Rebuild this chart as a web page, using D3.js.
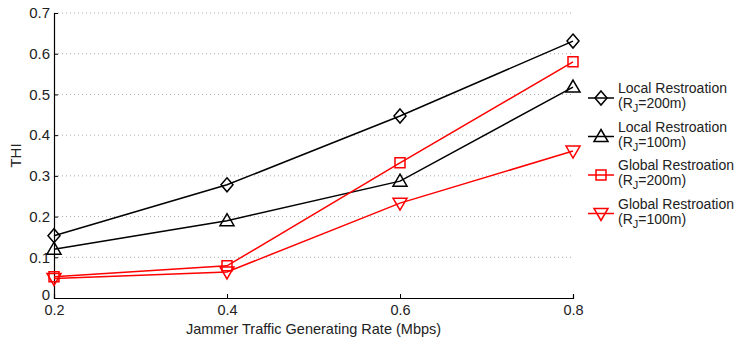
<!DOCTYPE html>
<html>
<head>
<meta charset="utf-8">
<script src="https://cdn.jsdelivr.net/npm/d3@7"></script>
<style>
  body { margin: 0; background: #fff; }
  text { font-family: "Liberation Sans", Arial, sans-serif; }
</style>
</head>
<body>
<script>
// data
var rates = [0.2, 0.4, 0.6, 0.8];
var localR200 = [0.153, 0.278, 0.447, 0.631];
var localR100 = [0.120, 0.190, 0.287, 0.518];
var globalR200 = [0.052, 0.079, 0.332, 0.580];
var globalR100 = [0.048, 0.064, 0.233, 0.361];
var yTicks = [0, 0.1, 0.2, 0.3, 0.4, 0.5, 0.6, 0.7];
var seriesNames = ["Local Restroation", "Local Restroation", "Global Restroation", "Global Restroation"];
var radii = ["200m", "100m", "200m", "100m"];

var w = 744, h = 340;

var series = [
  { name: seriesNames[0], r: radii[0], values: localR200, color: "#000", marker: "diamond" },
  { name: seriesNames[1], r: radii[1], values: localR100, color: "#000", marker: "triangle" },
  { name: seriesNames[2], r: radii[2], values: globalR200, color: "#f00", marker: "square" },
  { name: seriesNames[3], r: radii[3], values: globalR100, color: "#f00", marker: "triangleDown" }
];

var svg = d3.select("body").append("svg")
  .attr("width", w)
  .attr("height", h);

var x = d3.scaleLinear().domain([0.2, 0.8]).range([54, 573]);
var y = d3.scaleLinear().domain([0, 0.7]).range([298, 13]);

// dotted grid
svg.append("g").selectAll("line")
  .data(yTicks.slice(1))
  .enter().append("line")
  .attr("x1", x(0.2)).attr("x2", x(0.8))
  .attr("y1", function(d){ return y(d); })
  .attr("y2", function(d){ return y(d); })
  .style("stroke", "#aaa")
  .style("stroke-width", 1)
  .style("stroke-dasharray", "1,3");

// axes
var yAxis = d3.axisLeft(y).tickValues(yTicks).tickSize(-4).tickPadding(4)
  .tickFormat(function(d){ return d === 0 ? "0" : d3.format(".1f")(d); });
var gy = svg.append("g").attr("transform", "translate(" + x(0.2) + ",0)").call(yAxis);

var xAxis = d3.axisBottom(x).tickValues(rates).tickSize(-4).tickPadding(7)
  .tickFormat(d3.format(".1f"));
var gx = svg.append("g").attr("transform", "translate(0," + y(0) + ")").call(xAxis);

[gx, gy].forEach(function(g){
  g.select(".domain").style("stroke", "#000").style("stroke-width", 1.2);
  g.selectAll(".tick line").style("stroke", "#000");
  g.selectAll(".tick text").style("font-size", "15px").style("fill", "#222")
    .style("font-family", "'Liberation Sans', Arial, sans-serif");
});
gx.selectAll(".tick text").style("font-size", "14.5px");
// nudge the "0" label up a little so it clears the 0.2 label below
gy.selectAll(".tick text").filter(function(d){ return d === 0; }).attr("dy", "0.1em");

// axis titles
svg.append("text")
  .attr("x", x(0.5)).attr("y", 334)
  .attr("text-anchor", "middle")
  .style("font-size", "14.5px").style("fill", "#222")
  .text("Jammer Traffic Generating Rate (Mbps)");

svg.append("text")
  .attr("transform", "translate(21," + y(0.35) + ") rotate(-90)")
  .attr("text-anchor", "middle")
  .style("font-size", "15px").style("fill", "#222")
  .text("THI");

// marker shapes
function markerPath(type) {
  if (type === "diamond") return "M0,-7L6,0L0,7L-6,0Z";
  if (type === "triangle") return "M0,-7L7,5L-7,5Z";
  if (type === "triangleDown") return "M0,7L7,-5L-7,-5Z";
  return "M-5,-5L5,-5L5,5L-5,5Z";
}

var line = d3.line()
  .x(function(d, i){ return x(rates[i]); })
  .y(function(d){ return y(d); });

series.forEach(function(s){
  svg.append("path")
    .datum(s.values)
    .attr("d", line)
    .style("fill", "none")
    .style("stroke", s.color)
    .style("stroke-width", 1.5);

  svg.append("g").selectAll("path")
    .data(s.values)
    .enter().append("path")
    .attr("d", markerPath(s.marker))
    .attr("transform", function(d, i){ return "translate(" + x(rates[i]) + "," + y(d) + ")"; })
    .style("fill", "none")
    .style("stroke", s.color)
    .style("stroke-width", 1.5);
});

// legend
var legend = svg.append("g").attr("transform", "translate(588,98)");
series.forEach(function(s, i){
  var g = legend.append("g").attr("transform", "translate(0," + (i * 38.5) + ")");
  g.append("line")
    .attr("x1", 0).attr("x2", 26).attr("y1", 0).attr("y2", 0)
    .style("stroke", s.color).style("stroke-width", 1.5);
  g.append("path")
    .attr("d", markerPath(s.marker))
    .attr("transform", "translate(13,0)")
    .style("fill", "none").style("stroke", s.color).style("stroke-width", 1.5);
  g.append("text")
    .attr("x", 30).attr("y", -5)
    .style("font-size", "14px").style("fill", "#222")
    .text(s.name);
  var t = g.append("text")
    .attr("x", 30).attr("y", 10)
    .style("font-size", "14px").style("fill", "#222");
  t.append("tspan").text("(R");
  t.append("tspan").attr("dy", 4).style("font-size", "11px").text("J");
  t.append("tspan").attr("dy", -4).text("=" + s.r + ")");
});
</script>
</body>
</html>
